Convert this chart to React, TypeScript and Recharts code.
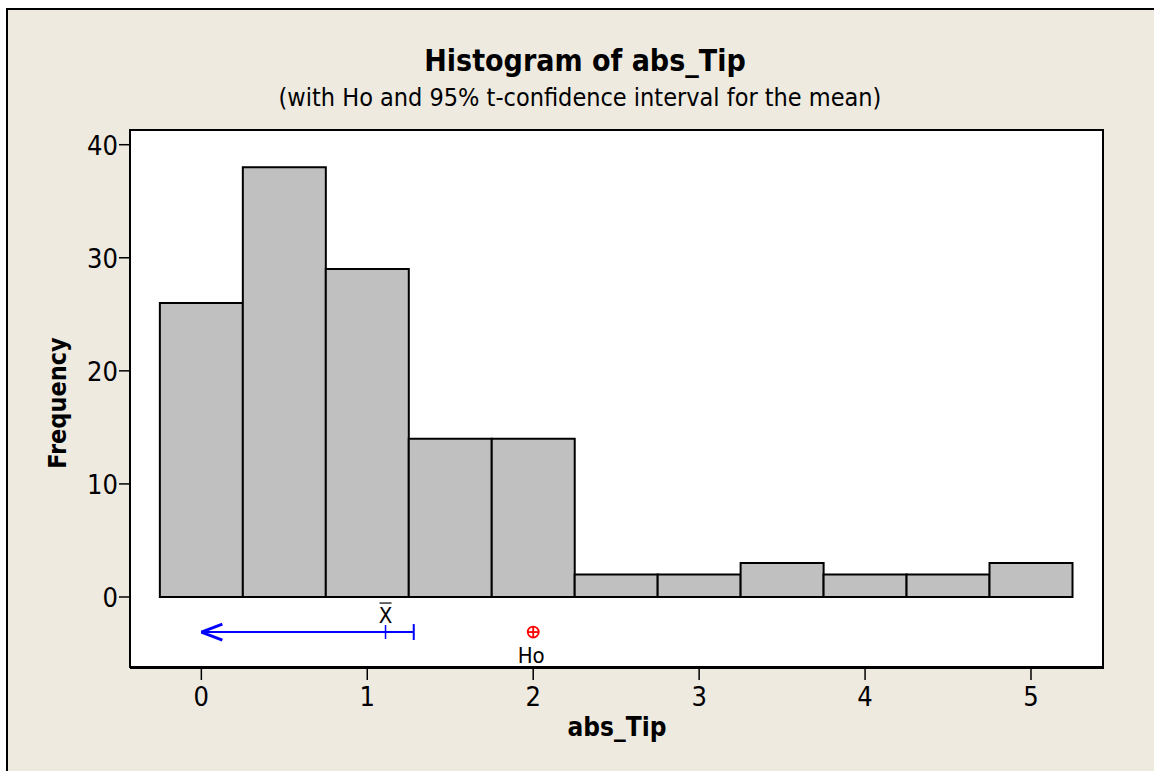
import React from 'react';
import {
  ComposedChart,
  Bar,
  XAxis,
  YAxis,
  CartesianGrid,
  ReferenceLine,
  ReferenceDot,
} from 'recharts';

// bin midpoints (width 0.5) and their counts
const binMids = [0, 0.5, 1, 1.5, 2, 2.5, 3, 3.5, 4, 4.5, 5];
const counts = [26, 38, 29, 14, 14, 2, 2, 3, 2, 2, 3];
const xTicks = [0, 1, 2, 3, 4, 5];
const yTicks = [0, 10, 20, 30, 40];

// 95% upper t-bound for the mean, and Ho
const ciLow = 0;
const ciHigh = 1.28;
const xbar = 1.11;
const ho = 2;
const ciLevel = -3.1;

const data = binMids.map((x, i) => ({ x, count: counts[i] }));

const FONT = '"DejaVu Sans Condensed", "DejaVu Sans", Tahoma, sans-serif';

const arrowHead = (p: any) => (
  <g>
    <line x1={p.cx} y1={p.cy} x2={p.cx + 21} y2={p.cy - 8} stroke="#0000ff" strokeWidth={3} />
    <line x1={p.cx} y1={p.cy} x2={p.cx + 21} y2={p.cy + 8} stroke="#0000ff" strokeWidth={3} />
  </g>
);

const endCap = (p: any) => (
  <line x1={p.cx} y1={p.cy - 8} x2={p.cx} y2={p.cy + 8} stroke="#0000ff" strokeWidth={2} />
);

const meanMark = (p: any) => (
  <g>
    <line x1={p.cx} y1={p.cy - 7} x2={p.cx} y2={p.cy + 7} stroke="#0000ff" strokeWidth={1.5} />
    <line x1={p.cx - 6} y1={p.cy - 29} x2={p.cx + 6} y2={p.cy - 29} stroke="#000" strokeWidth={1.2} />
    <text x={p.cx} y={p.cy - 9} textAnchor="middle" fontSize={22} fontFamily={FONT} fill="#000">
      X
    </text>
  </g>
);

const hoMark = (p: any) => (
  <g>
    <circle cx={p.cx} cy={p.cy} r={5.5} fill="none" stroke="#ff0000" strokeWidth={1.8} />
    <line x1={p.cx - 5.5} y1={p.cy} x2={p.cx + 5.5} y2={p.cy} stroke="#ff0000" strokeWidth={1.8} />
    <line x1={p.cx} y1={p.cy - 5.5} x2={p.cx} y2={p.cy + 5.5} stroke="#ff0000" strokeWidth={1.8} />
    <text x={p.cx - 2} y={p.cy + 31} textAnchor="middle" fontSize={22} fontFamily={FONT} fill="#000">
      Ho
    </text>
  </g>
);

const XTick = (p: any) => (
  <text x={p.x} y={p.y + 24} textAnchor="middle" fontSize={27} fontFamily={FONT} fill="#000">
    {p.payload.value}
  </text>
);

const YTick = (p: any) => (
  <text x={p.x + 1} y={p.y + 10} textAnchor="end" fontSize={27} fontFamily={FONT} fill="#000">
    {p.payload.value}
  </text>
);

export default function App() {
  return (
    <div style={{ position: 'absolute', left: 0, top: 0, width: 1154, height: 771, background: '#fff', overflow: 'hidden' }}>
      <div
        style={{
          position: 'absolute',
          left: 6,
          top: 8,
          right: 0,
          bottom: 0,
          background: '#eeeae0',
          borderTop: '2px solid #000',
          borderLeft: '2px solid #000',
        }}
      />
      <div
        style={{
          position: 'absolute',
          left: 0,
          width: 1170,
          top: 43,
          textAlign: 'center',
          fontFamily: FONT,
          fontWeight: 'bold',
          fontSize: 30,
          color: '#000',
        }}
      >
        Histogram of abs_Tip
      </div>
      <div
        style={{
          position: 'absolute',
          left: 0,
          width: 1160,
          top: 83,
          textAlign: 'center',
          fontFamily: FONT,
          fontSize: 25,
          color: '#000',
        }}
      >
        (with Ho and 95% t-confidence interval for the mean)
      </div>
      <div style={{ position: 'absolute', left: 0, top: 0 }}>
        <ComposedChart
          width={1154}
          height={771}
          data={data}
          barCategoryGap={0}
          barGap={0}
          margin={{ top: 130, right: 50, left: 40, bottom: 63 }}
        >
          <CartesianGrid fill="#fff" horizontal={false} vertical={false} />
          <XAxis
            dataKey="x"
            type="number"
            domain={[-0.43, 5.44]}
            ticks={xTicks}
            allowDataOverflow
            height={40}
            tick={XTick}
            tickSize={12}
            axisLine={{ stroke: '#000', strokeWidth: 2 }}
            tickLine={{ stroke: '#000', strokeWidth: 1.5 }}
            label={{ value: 'abs_Tip', position: 'bottom', offset: 10, fontSize: 26, fontWeight: 'bold', fill: '#000', fontFamily: FONT }}
          />
          <YAxis
            type="number"
            domain={[-6.28, 41.3]}
            ticks={yTicks}
            allowDataOverflow
            width={90}
            tick={YTick}
            tickSize={11}
            axisLine={{ stroke: '#000', strokeWidth: 2 }}
            tickLine={{ stroke: '#000', strokeWidth: 1.5 }}
            label={{ value: 'Frequency', angle: -90, position: 'center', dx: -28, dy: 4, fontSize: 25, fontWeight: 'bold', fill: '#000', fontFamily: FONT }}
          />
          <Bar dataKey="count" fill="#c0c0c0" stroke="#000" strokeWidth={2} isAnimationActive={false} />
          <ReferenceLine
            segment={[
              { x: ciLow, y: ciLevel },
              { x: ciHigh, y: ciLevel },
            ]}
            stroke="#0000ff"
            strokeWidth={2}
          />
          <ReferenceDot x={ciLow} y={ciLevel} shape={arrowHead} />
          <ReferenceDot x={ciHigh} y={ciLevel} shape={endCap} />
          <ReferenceDot x={xbar} y={ciLevel} shape={meanMark} />
          <ReferenceDot x={ho} y={ciLevel} shape={hoMark} />
        </ComposedChart>
      </div>
      {/* plot frame */}
      <div
        style={{
          position: 'absolute',
          left: 129,
          top: 129,
          width: 975,
          height: 539,
          boxSizing: 'border-box',
          border: '2px solid #000',
          pointerEvents: 'none',
        }}
      />
    </div>
  );
}
